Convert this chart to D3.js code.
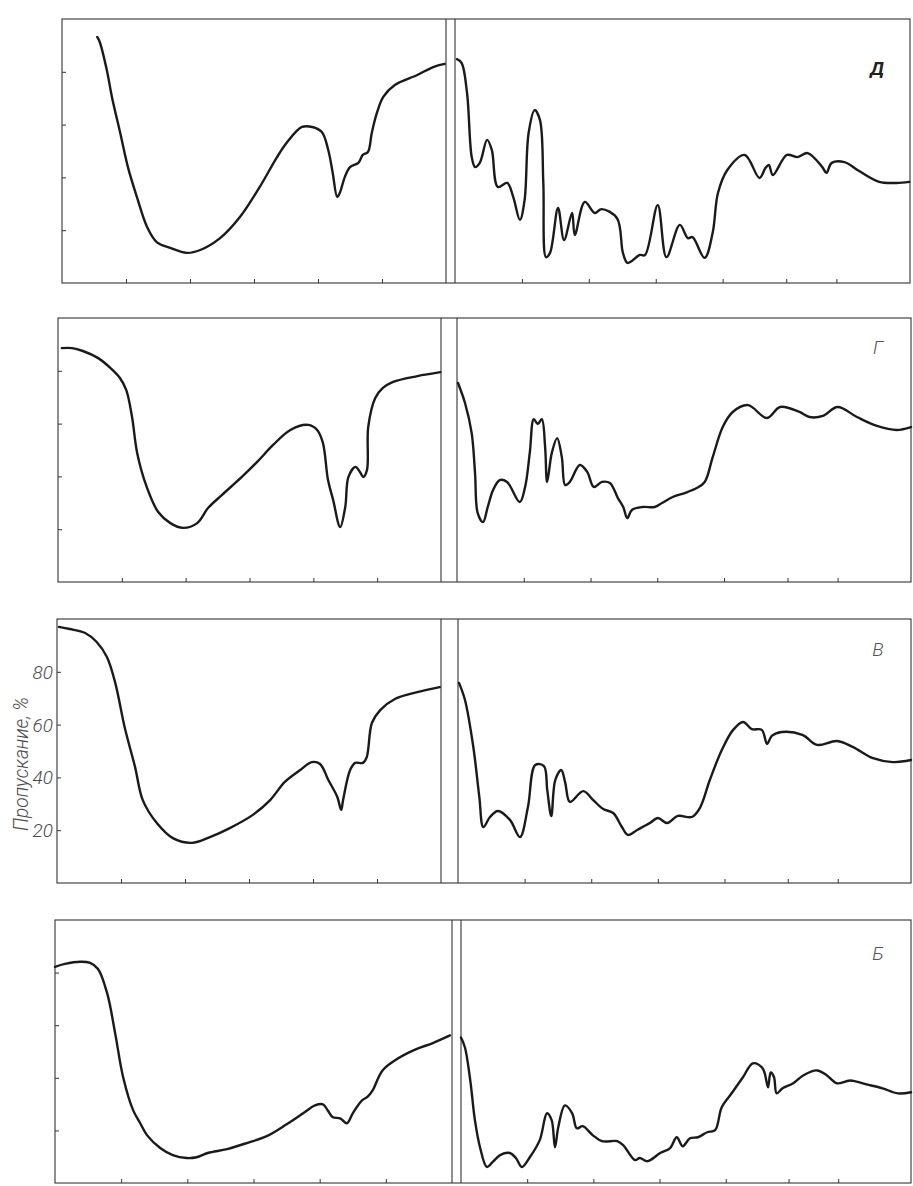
<!DOCTYPE html>
<html>
<head>
<meta charset="utf-8">
<script src="https://cdn.jsdelivr.net/npm/d3@7"></script>
<style>
  body { margin: 0; background: #fff; }
  svg { display: block; }
  .frame { fill: none; stroke: #333; stroke-width: 1.1; }
  .curve { fill: none; stroke: #1a1a1a; stroke-width: 2.4; stroke-linejoin: round; stroke-linecap: round; }
  .tick { stroke: #333; stroke-width: 1; }
  .lbl { font-family: Roboto, "Liberation Sans Narrow", "DejaVu Sans", sans-serif; font-style: italic; fill: #4a4a4a; }
</style>
</head>
<body>
<div id="chart"></div>
<script>
// panel names, top to bottom
const panelNames = ["Д", "Г", "В", "Б"];

// tick values (no labels on x)
const leftTicks = [10, 20, 30, 40, 50];
const rightTicks = [10, 20, 30, 40, 49.5, 57];
const yTicks = [20, 40, 60, 80];
const yTickLabels = ["20", "40", "60", "80"];
const yTitle = "Пропускание, %";

// spectra: [x, transmission %]; left part x 0..60, right part x 0..68
const dLeft = [[5.5,93.2],[5.9,91.3],[7.0,80.7],[7.8,70.5],[9.1,56.8],[10.3,43.9],[11.7,32.6],[13.3,21.2],[14.8,15.5],[16.9,13.3],[19.5,11.4],[21.6,12.5],[24.7,17.0],[27.8,25.0],[30.9,36.4],[33.6,47.7],[35.2,53.4],[37.5,59.1],[39.1,59.1],[40.6,57.2],[41.6,50.4],[42.3,41.7],[43.0,32.6],[43.4,34.1],[44.2,40.2],[45.0,43.9],[46.3,45.5],[47.0,48.5],[47.8,49.6],[48.4,56.8],[49.2,64.4],[50.2,70.5],[52.0,75.0],[55.5,78.8],[58.0,81.8],[59.8,83.0]];
const dRight = [[0.3,84.8],[1.0,83.3],[1.8,72.0],[2.5,47.7],[3.0,43.9],[3.7,45.5],[4.8,54.2],[5.5,50.4],[6.4,36.4],[7.8,37.9],[8.7,32.6],[9.7,23.9],[10.4,31.4],[11.0,56.8],[11.9,65.5],[12.7,61.7],[13.2,37.9],[13.6,9.8],[14.2,11.4],[15.4,28.4],[16.3,16.3],[17.5,26.5],[17.9,18.2],[19.4,30.7],[20.9,26.5],[21.9,28.0],[24.2,24.6],[25.1,11.4],[25.8,7.6],[27.6,10.6],[28.4,10.6],[30.3,29.5],[31.6,9.8],[33.6,22.0],[34.8,17.0],[35.5,17.4],[37.3,9.5],[38.5,18.9],[39.3,34.1],[40.7,42.8],[43.3,48.5],[45.5,39.8],[46.4,43.6],[46.9,44.7],[47.5,40.9],[49.6,48.5],[51.2,47.7],[52.7,49.2],[54.9,43.9],[55.5,41.7],[56.3,45.5],[58.2,45.8],[60.4,42.4],[63.4,38.3],[66.0,37.9],[67.9,38.3]];

const gLeft = [[0.6,88.6],[2.2,88.6],[3.9,87.5],[6.3,84.8],[8.2,81.1],[9.7,77.3],[10.7,72.7],[11.6,62.5],[12.4,48.9],[13.9,36.0],[15.7,26.5],[17.6,22.3],[19.6,20.5],[21.8,22.3],[23.5,28.0],[25.7,33.0],[28.8,39.8],[31.2,45.5],[33.7,51.9],[36.4,57.6],[39.2,59.5],[40.6,57.6],[41.5,52.7],[42.3,38.6],[43.1,31.1],[44.2,20.8],[45.0,28.4],[45.5,39.8],[46.6,43.6],[47.3,41.7],[47.8,39.8],[48.4,42.4],[48.6,58.7],[49.7,69.7],[50.9,73.5],[52.5,75.8],[56.3,78.0],[59.9,79.5]];
const gRight = [[0.15,75.4],[1.2,67.8],[2.2,56.4],[2.7,41.3],[3.1,26.1],[3.9,22.7],[4.6,28.4],[5.4,34.8],[6.4,38.6],[7.5,37.9],[9.4,30.3],[10.2,36.0],[10.9,48.9],[11.5,61.7],[12.1,59.8],[12.7,61.7],[13.2,51.1],[13.5,37.9],[14.2,48.9],[15.0,54.5],[15.7,47.3],[16.2,36.7],[16.9,37.9],[18.4,44.3],[19.5,41.7],[20.5,36.0],[21.7,37.9],[22.9,37.5],[24.1,31.8],[24.9,28.4],[25.5,24.2],[26.2,27.3],[27.8,28.4],[29.6,28.4],[30.7,29.9],[32.3,32.2],[34.1,33.7],[35.9,35.6],[37.1,37.9],[38.3,47.3],[39.8,58.7],[41.3,64.4],[43.6,67.0],[46.4,62.1],[48.4,66.3],[51.3,64.4],[52.8,62.5],[54.8,62.9],[57.0,66.3],[59.9,62.5],[62.9,59.1],[65.9,57.6],[68,58.7]];

const vLeft = [[0.3,97.0],[2.0,96.2],[4.4,94.7],[6.2,91.3],[7.8,85.6],[9.1,75.8],[10.6,58.7],[12.2,43.9],[13.4,31.4],[15.6,22.7],[18.1,17.0],[21.1,15.2],[23.9,17.4],[27.0,20.8],[30.6,25.8],[33.3,31.4],[35.6,38.3],[38.0,42.8],[39.8,45.8],[41.1,45.1],[42.4,39.0],[43.8,32.6],[44.4,27.7],[44.7,31.4],[45.8,42.8],[46.6,45.5],[47.8,45.5],[48.4,47.7],[49.2,60.6],[50.5,65.5],[52.8,69.7],[56.3,72.3],[59.8,74.2]];
const vRight = [[0.15,75.8],[1.05,69.3],[2.3,51.5],[3.2,32.6],[3.8,21.2],[4.8,25.0],[6.0,27.3],[7.8,23.9],[9.3,17.4],[10.5,28.8],[11.6,44.7],[12.9,44.3],[13.4,35.2],[14.0,25.4],[14.6,39.0],[15.5,42.8],[16.1,37.9],[16.8,30.7],[18.8,34.8],[20.3,31.4],[21.8,28.0],[23.3,26.5],[24.6,21.2],[25.5,18.2],[26.9,20.1],[28.8,22.7],[30.0,24.6],[31.4,22.7],[33.0,25.4],[35.1,25.0],[36.3,28.4],[37.8,39.0],[39.6,50.4],[41.3,58.0],[42.8,61.0],[44.1,58.3],[45.6,58.0],[46.4,52.7],[47.1,55.7],[48.6,57.2],[51.7,56.1],[53.9,52.3],[56.9,53.8],[59.3,51.5],[62.3,47.3],[65.3,45.8],[68,46.6]];

const bLeft = [[0,82.2],[1.5,83.3],[3.8,84.1],[5.3,83.7],[6.5,81.4],[7.9,72.0],[9.1,56.8],[10.3,40.2],[11.8,27.7],[12.8,23.1],[13.9,18.2],[15.9,13.3],[17.8,10.6],[19.9,9.5],[21.4,9.8],[23.1,11.4],[26.0,12.9],[29.0,15.2],[32.0,17.8],[35.0,22.3],[37.5,26.5],[39.3,29.5],[40.5,29.9],[41.2,27.7],[42.0,25.0],[43.1,24.6],[44.1,22.7],[45.0,26.5],[46.4,31.4],[47.3,32.9],[48.0,35.2],[49.5,42.8],[51.8,47.3],[54.6,50.9],[57.1,53.2],[59.7,56.1]];
const bRight = [[0,55.3],[0.6,51.5],[1.4,39.0],[2.1,23.9],[2.9,13.3],[3.9,6.1],[4.8,8.0],[5.9,10.6],[7.4,11.4],[8.3,9.5],[9.2,6.1],[10.4,9.8],[11.9,16.3],[13.0,26.5],[13.7,23.9],[14.2,13.6],[14.7,21.2],[15.7,29.5],[16.8,26.5],[17.5,20.8],[18.4,21.6],[19.9,18.2],[21.3,15.9],[23.6,15.9],[24.5,14.4],[26.3,8.7],[27.0,9.5],[28.2,8.3],[30.1,11.4],[31.6,13.3],[32.6,17.4],[33.5,14.0],[34.6,17.0],[35.8,17.4],[37.2,19.3],[38.4,20.1],[39.4,28.8],[40.9,34.1],[42.6,40.2],[44.1,45.5],[45.5,43.9],[45.9,41.7],[46.4,36.4],[46.8,42.0],[47.3,40.2],[47.7,34.1],[48.6,36.0],[50.2,37.9],[51.7,40.9],[53.8,42.8],[55.3,40.9],[56.8,37.9],[58.8,39.0],[61.3,37.5],[63.7,36.0],[66.0,34.1],[68,34.5]];

const leftSeries = [dLeft, gLeft, vLeft, bLeft];
const rightSeries = [dRight, gRight, vRight, bRight];

// page layout of the four frames (pixels)
const layout = [
  {top: 19,  bottom: 283,  left: 62, div1: 446, div2: 455, right: 910, nameY: 75,  bold: true},
  {top: 318, bottom: 582,  left: 58, div1: 441, div2: 457, right: 911, nameY: 354, bold: false},
  {top: 619, bottom: 883,  left: 57, div1: 441, div2: 458, right: 911, nameY: 656, bold: false},
  {top: 920, bottom: 1183, left: 55, div1: 452, div2: 461, right: 911, nameY: 960, bold: false}
];

const width = 913, height = 1186;
const svg = d3.select("#chart").append("svg")
  .attr("width", width)
  .attr("height", height);

layout.forEach((p, i) => {
  const g = svg.append("g");

  const y = d3.scaleLinear().domain([0, 100]).range([p.bottom, p.top]);
  const xl = d3.scaleLinear().domain([0, 60]).range([p.left, p.div1]);
  const xr = d3.scaleLinear().domain([0, 68]).range([p.div2, p.right]);

  // frame and double divider
  g.append("rect").attr("class", "frame")
    .attr("x", p.left).attr("y", p.top)
    .attr("width", p.right - p.left).attr("height", p.bottom - p.top);
  [p.div1, p.div2].forEach(xx => {
    g.append("line").attr("class", "frame")
      .attr("x1", xx).attr("x2", xx).attr("y1", p.top).attr("y2", p.bottom);
  });

  // inward ticks
  g.append("g").attr("transform", `translate(${p.left},0)`)
    .call(d3.axisRight(y).tickValues(yTicks).tickSize(4).tickFormat(""))
    .call(a => a.select(".domain").remove())
    .selectAll("line").attr("class", "tick");
  g.append("g").attr("transform", `translate(0,${p.bottom})`)
    .call(d3.axisTop(xl).tickValues(leftTicks).tickSize(4).tickFormat(""))
    .call(a => a.select(".domain").remove())
    .selectAll("line").attr("class", "tick");
  g.append("g").attr("transform", `translate(0,${p.bottom})`)
    .call(d3.axisTop(xr).tickValues(rightTicks).tickSize(4).tickFormat(""))
    .call(a => a.select(".domain").remove())
    .selectAll("line").attr("class", "tick");

  // curves
  const lineL = d3.line().x(d => xl(d[0])).y(d => y(d[1])).curve(d3.curveCatmullRom.alpha(0.5));
  const lineR = d3.line().x(d => xr(d[0])).y(d => y(d[1])).curve(d3.curveCatmullRom.alpha(0.5));
  g.append("path").attr("class", "curve").attr("d", lineL(leftSeries[i]));
  g.append("path").attr("class", "curve").attr("d", lineR(rightSeries[i]));

  // panel letter
  g.append("text").attr("class", "lbl")
    .attr("x", p.right - 33).attr("y", p.nameY)
    .attr("text-anchor", "middle")
    .attr("font-size", 19)
    .attr("font-weight", p.bold ? "bold" : "300")
    .style("fill", p.bold ? "#222" : "#555")
    .text(panelNames[i]);

  // y labels only on panel В
  if (i === 2) {
    g.selectAll(".ylab").data(yTicks).enter().append("text")
      .attr("class", "lbl")
      .attr("x", p.left - 4)
      .attr("y", d => y(d) + 7)
      .attr("text-anchor", "end")
      .attr("font-size", 19)
      .attr("font-weight", "300")
      .text((d, k) => yTickLabels[k]);
    g.append("text").attr("class", "lbl")
      .attr("transform", `translate(28,${y(50) + 13}) rotate(-90)`)
      .attr("text-anchor", "middle")
      .attr("font-size", 20)
      .attr("font-weight", "300")
      .attr("textLength", 134)
      .attr("lengthAdjust", "spacingAndGlyphs")
      .text(yTitle);
  }
});
</script>
</body>
</html>
